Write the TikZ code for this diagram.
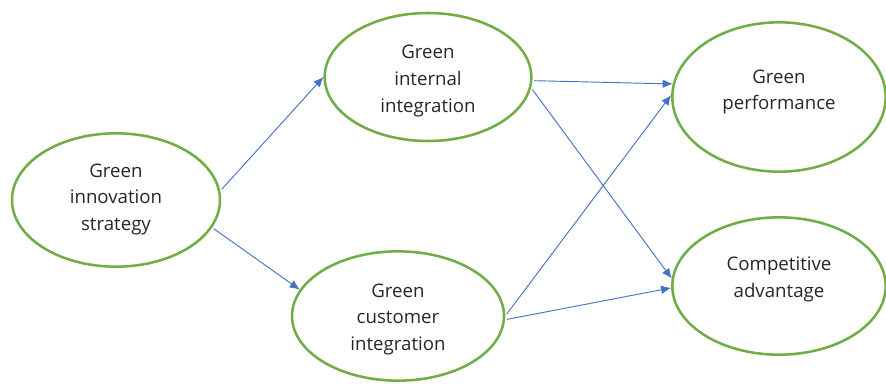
\documentclass[tikz,border=0pt]{standalone}
\usepackage{fontspec}
\setmainfont{Open Sans}
\usetikzlibrary{shapes.geometric,arrows.meta}
\definecolor{ovalgreen}{RGB}{112,173,71}
\definecolor{linkblue}{RGB}{68,114,196}

\begin{document}
\begin{tikzpicture}[x=0.75pt,y=-0.75pt,
    oval/.style={ellipse,draw=ovalgreen,line width=1.9pt,inner sep=0pt},
    txt/.style={align=center,text=black!85,font=\fontsize{14}{19.9}\selectfont},
    link/.style={draw=linkblue,line width=0.7pt,-{Latex[length=7.5pt,width=6.5pt]},shorten <=1.5pt}]
        \useasboundingbox (0,0) rectangle (886,383);

        \node[oval,minimum width=156pt,minimum height=100pt,label={[txt,name=strat text,yshift=0.5pt]center:Green\\innovation\\strategy}] (strat) at (116,200) {};
        \node[oval,minimum width=155pt,minimum height=96pt,label={[txt,name=intern text,yshift=-3pt]center:Green\\internal\\integration}] (intern) at (428,77) {};
        \node[oval,minimum width=159pt,minimum height=97pt,label={[txt,name=cust text,yshift=-2.5pt]center:Green\\customer\\integration}] (cust) at (398,316) {};
        \node[oval,minimum width=160pt,minimum height=112pt,label={[txt,name=perf text,yshift=3.8pt]center:Green\\performance}] (perf) at (779,97) {};
        \node[oval,minimum width=160pt,minimum height=103pt,label={[txt,name=comp text,yshift=4.8pt]center:Competitive\\advantage}] (comp) at (779,286) {};

        \draw[link] (strat.5) -- (intern.180);
        \draw[link] (strat.-16) -- (cust.165);

        \draw[link] (intern.-2) -- (perf.173);
        \draw[link] (intern.-6) -- (comp.176);
        \draw[link] (cust.0) -- (perf.179);
        \draw[link] (cust.-2) -- (comp.181);
    \end{tikzpicture}
\end{document}
